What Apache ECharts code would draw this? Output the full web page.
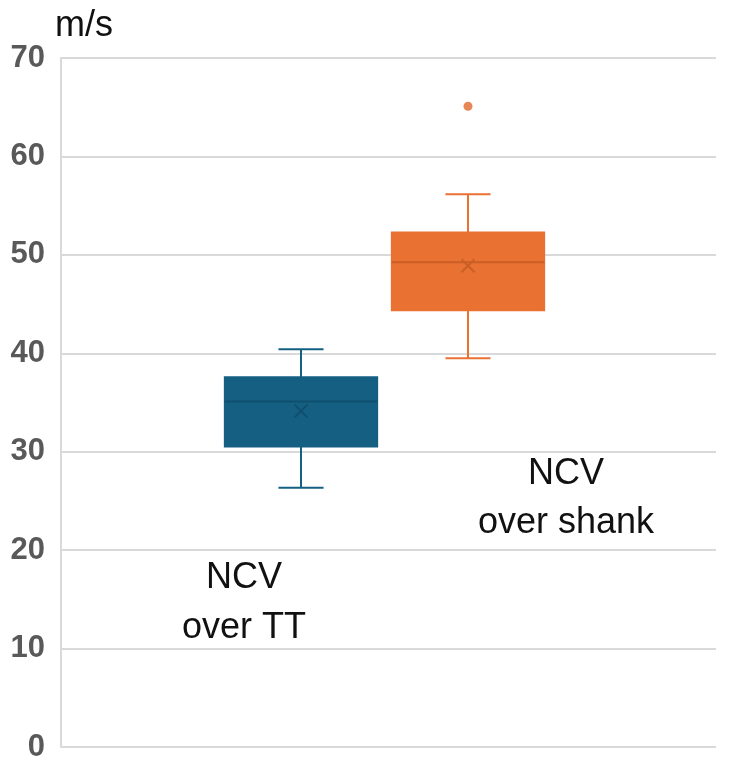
<!DOCTYPE html>
<html>
<head>
<meta charset="utf-8">
<script src="https://cdn.jsdelivr.net/npm/echarts@6/dist/echarts.min.js"></script>
<style>
html,body{margin:0;padding:0;background:#fff;}
#chart{width:730px;height:771px;}
</style>
</head>
<body>
<div id="chart"></div>
<script>
// ---- data ----
var categories = ['NCV over TT', 'NCV over shank'];
var mins    = [26.35, 39.5];
var q1s     = [30.5, 44.35];
var medians = [35.1, 49.25];
var q3s     = [37.6, 52.3];
var maxs    = [40.4, 56.15];
var means   = [34.15, 48.9];
var outliers = [[], [65.1]];
var yTicks = [0, 10, 20, 30, 40, 50, 60, 70];

// ---- styles ----
var fillColors = ['#156082', '#E97132'];
var darkColors = ['#0f4e6c', '#c95f27'];
var FONT = 'Liberation Sans, Arial, sans-serif';

var boxData = categories.map(function (c, i) {
  return [i, mins[i], q1s[i], medians[i], q3s[i], maxs[i], means[i]];
});
var outlierData = [];
outliers.forEach(function (arr, i) {
  arr.forEach(function (v) { outlierData.push([i, v]); });
});

var chart = echarts.init(document.getElementById('chart'), null, {renderer: 'canvas'});
chart.setOption({
  animation: false,
  backgroundColor: '#ffffff',
  grid: [
    {left: 61, right: 14, top: 58, bottom: 24},
    {left: 217.5, width: 334, top: 58, bottom: 24}
  ],
  xAxis: [
    {gridIndex: 0, type: 'value', min: 0, max: 1, show: false},
    {gridIndex: 1, type: 'category', data: categories, boundaryGap: true, show: false}
  ],
  yAxis: [
    {
      gridIndex: 0, type: 'value', min: yTicks[0], max: yTicks[yTicks.length - 1], interval: 10,
      axisLine: {show: true, lineStyle: {color: '#d9d9d9', width: 2}},
      axisTick: {show: false},
      splitLine: {show: true, lineStyle: {color: '#d9d9d9', width: 2}},
      axisLabel: {color: '#595959', fontSize: 31, fontWeight: 'bold', fontFamily: FONT, margin: 16}
    },
    {gridIndex: 1, type: 'value', min: yTicks[0], max: yTicks[yTicks.length - 1], show: false}
  ],
  graphic: [
    {type: 'text', left: 55, top: 8, style: {text: 'm/s', font: '36px ' + FONT, fill: '#111'}},
    {type: 'text', x: 244, y: 553, style: {text: 'NCV\nover TT', font: '36px ' + FONT, fill: '#111', align: 'center', verticalAlign: 'top', lineHeight: 50}},
    {type: 'text', x: 566, y: 450, style: {text: 'NCV\nover shank', font: '36px ' + FONT, fill: '#111', align: 'center', verticalAlign: 'top', lineHeight: 49}}
  ],
  series: [
    {
      type: 'custom',
      xAxisIndex: 1, yAxisIndex: 1,
      data: boxData,
      renderItem: function (params, api) {
        var i = api.value(0);
        var pMin = api.coord([i, api.value(1)]);
        var pQ1 = api.coord([i, api.value(2)]);
        var pMed = api.coord([i, api.value(3)]);
        var pQ3 = api.coord([i, api.value(4)]);
        var pMax = api.coord([i, api.value(5)]);
        var pMean = api.coord([i, api.value(6)]);
        var band = api.size([1, 0])[0];
        var cx = pMed[0];
        var bw = band * 0.915;
        var cw = band * 0.27;
        var fc = fillColors[params.dataIndex];
        var dc = darkColors[params.dataIndex];
        var m = 6.5;
        var line = function (x1, y1, x2, y2, color) {
          return {type: 'line', shape: {x1: x1, y1: y1, x2: x2, y2: y2}, style: {stroke: color, lineWidth: 2}};
        };
        return {
          type: 'group',
          children: [
            line(cx, pQ3[1], cx, pMax[1], fc),
            line(cx - cw / 2, pMax[1], cx + cw / 2, pMax[1], fc),
            line(cx, pQ1[1], cx, pMin[1], fc),
            line(cx - cw / 2, pMin[1], cx + cw / 2, pMin[1], fc),
            {type: 'rect', shape: {x: cx - bw / 2, y: pQ3[1], width: bw, height: pQ1[1] - pQ3[1]},
             style: {fill: fc, stroke: fc, lineWidth: 1.5}},
            line(cx - bw / 2, pMed[1], cx + bw / 2, pMed[1], dc),
            line(cx - m, pMean[1] - m, cx + m, pMean[1] + m, dc),
            line(cx - m, pMean[1] + m, cx + m, pMean[1] - m, dc)
          ]
        };
      }
    },
    {
      type: 'scatter',
      xAxisIndex: 1, yAxisIndex: 1,
      data: outlierData,
      symbol: 'circle',
      symbolSize: 9,
      itemStyle: {color: '#E2692C'}
    }
  ]
});
</script>
</body>
</html>
